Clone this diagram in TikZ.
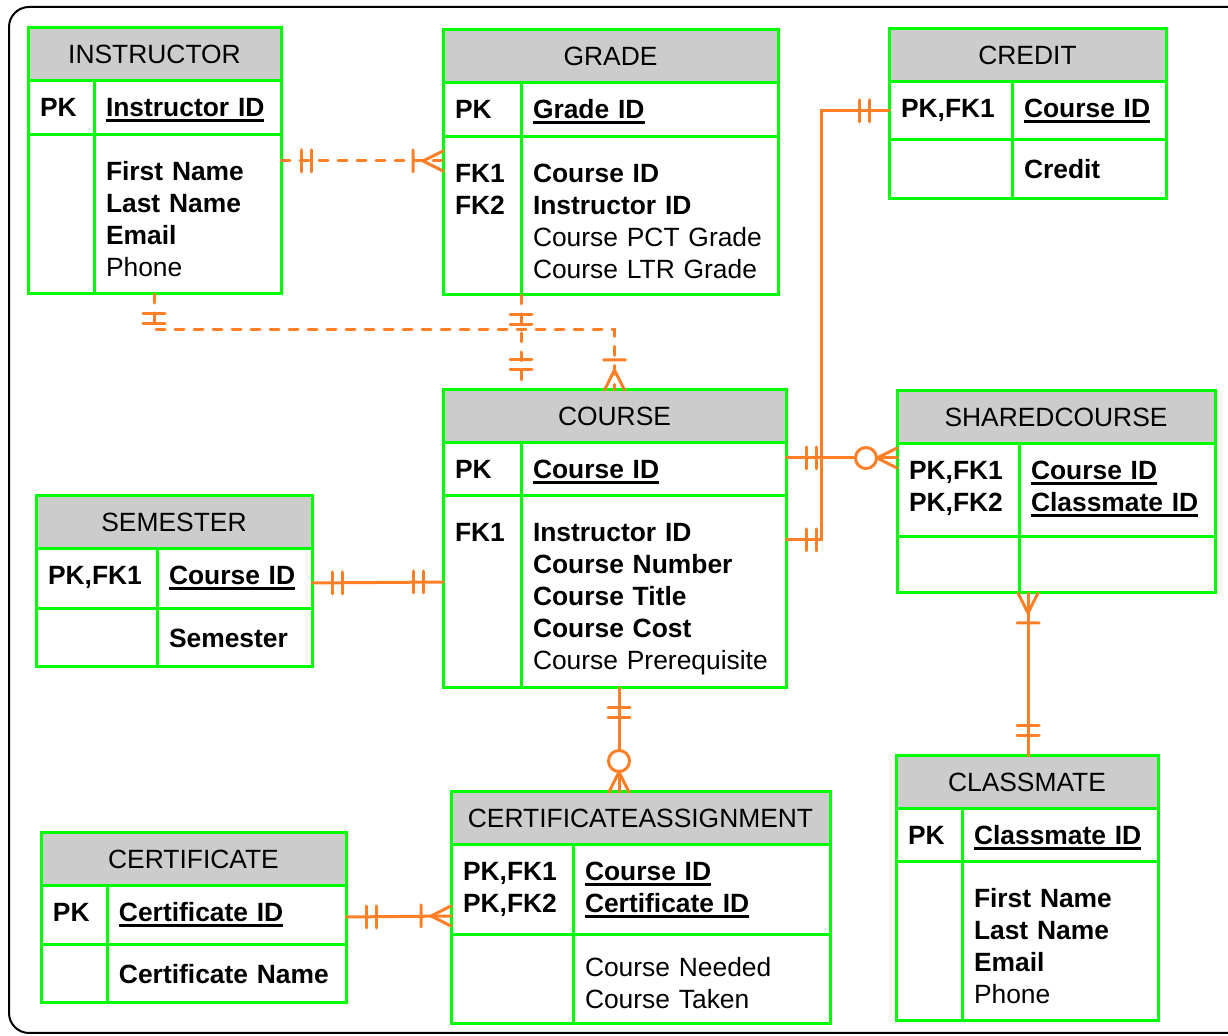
\documentclass[tikz,border=0pt]{standalone}
\usepackage{fontspec}
\setmainfont{Liberation Sans}
\usetikzlibrary{calc}
\definecolor{entgreen}{RGB}{0,255,0}
\definecolor{headgray}{RGB}{204,204,204}
\definecolor{relorange}{RGB}{255,127,39}
\newcommand{\erfont}{\fontsize{13.2}{16}\selectfont}
\newcommand{\keyfield}[1]{\leavevmode\setbox0=\hbox{#1}\rlap{\rule[-2.4pt]{\wd0}{1.2pt}}\box0}
\tikzset{
    entity/.style = {
        draw=entgreen,
        line width=1.5pt,
        anchor=north west,
        inner sep=0pt,
        outer sep=0pt
    },
    head/.style = {
        entity,
        fill=headgray,
        minimum height=26.5pt,
        font=\erfont
    },
    cell/.style = {
        entity,
        inner xsep=6pt,
        align=left,
        font=\erfont\bfseries
    },
    keyrow/.style = {cell, text height=18pt},
    attrrows/.style = {cell, text height=23pt},
    attrrow/.style = {cell, text height=19.5pt},
    rel/.style = {
        draw=relorange,
        line width=1.5pt,
        line cap=round
    },
    dashrel/.style = {rel, dash pattern=on 4.5pt off 5pt},
    relmark/.style = {rel, solid},
    one/.pic = {
        \draw[relmark] (10pt,-5.5pt) -- (10pt,5.5pt) (15pt,-5.5pt) -- (15pt,5.5pt);
    },
    many/.pic = {
        \draw[relmark] (0pt,5pt) -- (10pt,0pt) (0pt,-5pt) -- (10pt,0pt) (15pt,-5.5pt) -- (15pt,5.5pt);
    },
    zeromany/.pic = {
        \draw[relmark] (0pt,5pt) -- (10pt,0pt) (0pt,-5pt) -- (10pt,0pt);
        \draw[relmark, fill=white] (15.5pt,0pt) circle (5.25pt);
    },
}

\begin{document}
\begin{tikzpicture}[x=0.5pt, y=-0.5pt]
    \useasboundingbox (0,0) rectangle (1228,1036);
    \fill[white] (0,0) rectangle (1228,1036);
    \draw[line width=1pt, rounded corners=10pt] (9,7) rectangle (1260,1033);

    % INSTRUCTOR
    \node[head, minimum width=126.5pt] (instr) at (28,28) {INSTRUCTOR};
    \node[keyrow, text width=21pt, text depth=9pt] (instr-pk) at (instr.south west) {PK};
    \node[keyrow, text width=81.5pt, text depth=9pt] (instr-id) at (instr-pk.north east) {\keyfield{Instructor ID}};
    \node[attrrows, text width=21pt, text depth=56.5pt] (instr-fk) at (instr-pk.south west) {};
    \node[attrrows, text width=81.5pt, text depth=56.5pt] (instr-at) at (instr-fk.north east) {First Name\\Last Name\\Email\\\textmd{Phone}};

    % GRADE
    \node[head, minimum width=167.5pt] (grade) at (443,30) {GRADE};
    \node[keyrow, text width=27pt, text depth=9pt] (grade-pk) at (grade.south west) {PK};
    \node[keyrow, text width=116.5pt, text depth=9pt] (grade-id) at (grade-pk.north east) {\keyfield{Grade ID}};
    \node[attrrows, text width=27pt, text depth=56pt] (grade-fk) at (grade-pk.south west) {FK1\\FK2};
    \node[attrrows, text width=116.5pt, text depth=56pt] (grade-at) at (grade-fk.north east) {Course ID\\Instructor ID\\\textmd{Course PCT Grade}\\\textmd{Course LTR Grade}};

    % CREDIT
    \node[head, minimum width=138.5pt] (credit) at (889,29) {CREDIT};
    \node[keyrow, text width=49.5pt, text depth=11pt] (credit-pk) at (credit.south west) {PK,FK1};
    \node[keyrow, text width=65pt, text depth=11pt] (credit-id) at (credit-pk.north east) {\keyfield{Course ID}};
    \node[attrrow, text width=49.5pt, text depth=10pt] (credit-fk) at (credit-pk.south west) {};
    \node[attrrow, text width=65pt, text depth=10pt] (credit-at) at (credit-fk.north east) {Credit};

    % COURSE
    \node[head, minimum width=171.5pt] (course) at (443,390) {COURSE};
    \node[keyrow, text width=27pt, text depth=8.5pt] (course-pk) at (course.south west) {PK};
    \node[keyrow, text width=120.5pt, text depth=8.5pt] (course-id) at (course-pk.north east) {\keyfield{Course ID}};
    \node[attrrows, text width=27pt, text depth=73pt] (course-fk) at (course-pk.south west) {FK1};
    \node[attrrows, text width=120.5pt, text depth=73pt] (course-at) at (course-fk.north east) {Instructor ID\\Course Number\\Course Title\\Course Cost\\\textmd{Course Prerequisite}};

    % SHAREDCOURSE
    \node[head, minimum width=159pt] (shared) at (897,391) {SHAREDCOURSE};
    \node[keyrow, text width=49pt, text depth=28.5pt] (shared-pk) at (shared.south west) {PK,FK1\\PK,FK2};
    \node[keyrow, text width=86pt, text depth=28.5pt] (shared-id) at (shared-pk.north east) {\keyfield{Course ID}\\\keyfield{Classmate ID}};
    \node[attrrow, text width=49pt, text depth=8.5pt] (shared-fk) at (shared-pk.south west) {};
    \node[attrrow, text width=86pt, text depth=8.5pt] (shared-at) at (shared-fk.north east) {};

    % SEMESTER
    \node[head, minimum width=138pt] (sem) at (36,496) {SEMESTER};
    \node[keyrow, text width=48.5pt, text depth=12pt] (sem-pk) at (sem.south west) {PK,FK1};
    \node[keyrow, text width=65.5pt, text depth=12pt] (sem-id) at (sem-pk.north east) {\keyfield{Course ID}};
    \node[attrrow, text width=48.5pt, text depth=9.5pt] (sem-fk) at (sem-pk.south west) {};
    \node[attrrow, text width=65.5pt, text depth=9.5pt] (sem-at) at (sem-fk.north east) {Semester};

    % CLASSMATE
    \node[head, minimum width=131pt] (mate) at (896,756) {CLASSMATE};
    \node[keyrow, text width=21pt, text depth=8.5pt] (mate-pk) at (mate.south west) {PK};
    \node[keyrow, text width=86pt, text depth=8.5pt] (mate-id) at (mate-pk.north east) {\keyfield{Classmate ID}};
    \node[attrrows, text width=21pt, text depth=56.5pt] (mate-fk) at (mate-pk.south west) {};
    \node[attrrows, text width=86pt, text depth=56.5pt] (mate-at) at (mate-fk.north east) {First Name\\Last Name\\Email\\\textmd{Phone}};

    % CERTIFICATEASSIGNMENT
    \node[head, minimum width=189.5pt] (assign) at (451,792) {CERTIFICATEASSIGNMENT};
    \node[keyrow, text width=49pt, text depth=27pt] (assign-pk) at (assign.south west) {PK,FK1\\PK,FK2};
    \node[keyrow, text width=116.5pt, text depth=27pt] (assign-id) at (assign-pk.north east) {\keyfield{Course ID}\\\keyfield{Certificate ID}};
    \node[attrrows, text height=21pt, text width=49pt, text depth=23.5pt] (assign-fk) at (assign-pk.south west) {};
    \node[attrrows, text height=21pt, text width=116.5pt, text depth=23.5pt] (assign-at) at (assign-fk.north east) {\textmd{Course Needed}\\\textmd{Course Taken}};

    % CERTIFICATE
    \node[head, minimum width=152.5pt] (cert) at (41,833) {CERTIFICATE};
    \node[keyrow, text width=21pt, text depth=11.5pt] (cert-pk) at (cert.south west) {PK};
    \node[keyrow, text width=107.5pt, text depth=11.5pt] (cert-id) at (cert-pk.north east) {\keyfield{Certificate ID}};
    \node[attrrow, text width=21pt, text depth=9.5pt] (cert-fk) at (cert-pk.south west) {};
    \node[attrrow, text width=107.5pt, text depth=9.5pt] (cert-at) at (cert-fk.north east) {Certificate Name};

    % relationships
    \draw[dashrel] ([yshift=-13pt]instr-at.north east) pic{one} -- ([yshift=-12pt]grade-fk.north west) pic[rotate=180]{many};
    \draw[dashrel] ([xshift=30pt]instr-at.south west) pic[rotate=-90]{one} -- ++(0,-18pt) -| (course.north) pic[rotate=90]{many};
    \draw[dashrel] (grade-fk.south east) pic[rotate=-90]{one} -- (grade-fk.south east |- course.north) pic[rotate=90]{one};
    \draw[rel] (credit-pk.west) pic[rotate=180]{one} -- ++(-34pt,0) |- ([yshift=-22pt]course-at.north east) pic{one};
    \draw[rel] ([yshift=-7.5pt]course-id.north east) pic{one} -- ([yshift=-7pt]shared-pk.north west) pic[rotate=180]{zeromany};
    \draw[rel] ([xshift=4.5pt]shared-at.south west) pic[rotate=-90]{many} -- ([xshift=66pt]mate.north west) pic[rotate=90]{one};
    \draw[rel] ([xshift=49pt]course-at.south west) pic[rotate=-90]{one} -- ([xshift=84pt]assign.north west) pic[rotate=90]{zeromany};
    \draw[rel] ([yshift=-17pt]sem-id.north east) pic{one} -- ([yshift=-43pt]course-fk.north west) pic[rotate=180]{one};
    \draw[rel] ([yshift=-15.5pt]cert-id.north east) pic{one} -- ([yshift=-35.5pt]assign-pk.north west) pic[rotate=180]{many};
\end{tikzpicture}
\end{document}
